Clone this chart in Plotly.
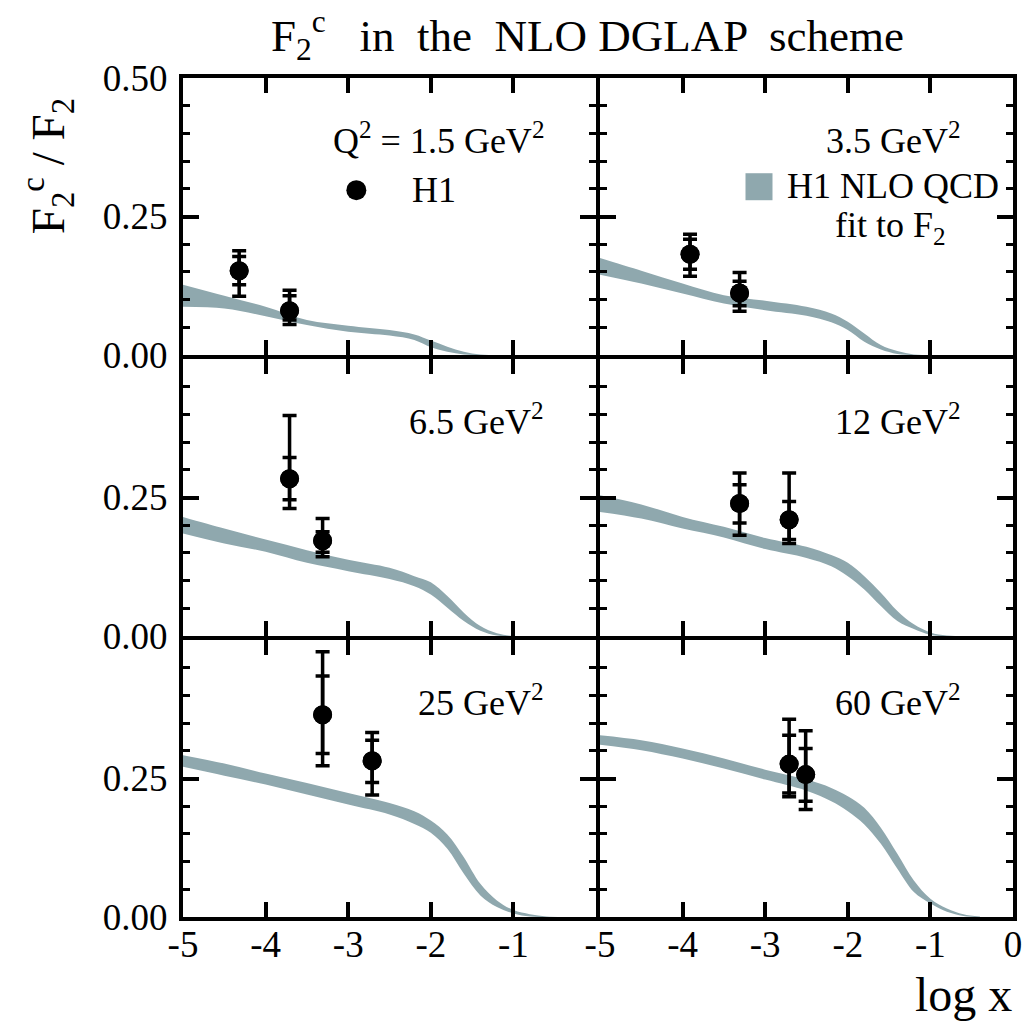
import plotly.graph_objects as go

FONT = "Liberation Serif"
BAND_COLOR = "#8fa8ae"

# ---------------- data ----------------
panel_labels = ["Q<sup>2</sup> = 1.5 GeV<sup>2</sup>", "3.5 GeV<sup>2</sup>", "6.5 GeV<sup>2</sup>",
                "12 GeV<sup>2</sup>", "25 GeV<sup>2</sup>", "60 GeV<sup>2</sup>"]

band_x = [-5.0, -4.5, -4.0, -3.5, -3.0, -2.5, -2.2, -2.0, -1.8, -1.6, -1.4, -1.2, -1.0, -0.8, -0.6, -0.4]

band_upper = [
    [0.127, 0.107, 0.087, 0.063, 0.053, 0.045, 0.037, 0.026, 0.015, 0.006, 0.001, 0, 0, 0, 0, 0],
    [0.175, 0.152, 0.129, 0.108, 0.098, 0.087, 0.075, 0.060, 0.039, 0.018, 0.007, 0.001, 0, 0, 0, 0],
    [0.215, 0.194, 0.174, 0.155, 0.1375, 0.123, 0.108, 0.097, 0.072, 0.042, 0.018, 0.005, 0, 0, 0, 0],
    [0.254, 0.2375, 0.215, 0.197, 0.177, 0.161, 0.146, 0.132, 0.108, 0.078, 0.045, 0.021, 0.0065, 0.001, 0, 0],
    [0.292, 0.277, 0.259, 0.242, 0.224, 0.206, 0.191, 0.174, 0.149, 0.108, 0.060, 0.030, 0.0125, 0.005, 0.001, 0],
    [0.328, 0.319, 0.304, 0.286, 0.266, 0.248, 0.233, 0.218, 0.197, 0.161, 0.114, 0.066, 0.033, 0.0155, 0.005, 0.001],
]
band_lower = [
    [0.087, 0.084, 0.070, 0.054, 0.042, 0.035, 0.027, 0.014, 0.006, 0.001, 0, 0, 0, 0, 0, 0],
    [0.145, 0.129, 0.111, 0.093, 0.081, 0.071, 0.059, 0.045, 0.024, 0.010, 0.002, 0, 0, 0, 0, 0],
    [0.185, 0.167, 0.152, 0.132, 0.117, 0.103, 0.090, 0.075, 0.051, 0.027, 0.0095, 0.001, 0, 0, 0, 0],
    [0.224, 0.212, 0.194, 0.178, 0.157, 0.141, 0.126, 0.108, 0.084, 0.054, 0.027, 0.0125, 0.002, 0, 0, 0],
    [0.271, 0.255, 0.239, 0.221, 0.203, 0.185, 0.168, 0.152, 0.123, 0.078, 0.039, 0.018, 0.0065, 0.001, 0, 0],
    [0.311, 0.301, 0.286, 0.268, 0.248, 0.228, 0.209, 0.191, 0.167, 0.132, 0.087, 0.045, 0.0245, 0.0095, 0.002, 0],
]

h1_x = [[-4.32, -3.71], [-3.91, -3.31], [-3.71, -3.31], [-3.31, -2.71], [-3.31, -2.71], [-2.71, -2.51]]
h1_y = [[0.152, 0.080], [0.182, 0.112], [0.284, 0.172], [0.239, 0.210], [0.365, 0.282], [0.276, 0.257]]
h1_tot_hi = [[0.188, 0.117], [0.218, 0.149], [0.398, 0.212], [0.294, 0.294], [0.479, 0.333], [0.357, 0.336]]
h1_stat_hi = [[0.178, 0.107], [0.209, 0.133], [0.322, 0.188], [0.273, 0.243], [0.435, 0.319], [0.328, 0.304]]
h1_stat_lo = [[0.127, 0.063], [0.155, 0.089], [0.246, 0.151], [0.204, 0.174], [0.295, 0.243], [0.224, 0.209]]
h1_tot_lo = [[0.106, 0.055], [0.142, 0.079], [0.230, 0.143], [0.182, 0.167], [0.273, 0.220], [0.217, 0.194]]

x_ticks = [-5, -4, -3, -2, -1, 0]
y_ticks = [0.0, 0.25, 0.5]

# ---------------- figure ----------------
W, H = 1034, 1022
ML, MR, MT, MB = 183, 14, 78, 105
LW = 4  # frame line width
gx = LW / (W - ML - MR)
gy = LW / (H - MT - MB)
cw = (1 - gx) / 2
rh = (1 - 2 * gy) / 3
col_domains = [[0.0, cw], [cw + gx, 1.0]]
row_domains = [[2 * rh + 2 * gy, 1.0], [rh + gy, 2 * rh + gy], [0.0, rh]]

fig = go.Figure()
layout = {}
for i in range(6):
    r, c = divmod(i, 2)
    n = "" if i == 0 else str(i + 1)
    xa, ya = "x" + n, "y" + n

    # band
    fig.add_trace(go.Scatter(x=band_x, y=band_lower[i], mode="lines",
                             line=dict(width=0, shape="spline", smoothing=1.0, color=BAND_COLOR),
                             xaxis=xa, yaxis=ya, showlegend=False, hoverinfo="skip"))
    fig.add_trace(go.Scatter(x=band_x, y=band_upper[i], mode="lines", fill="tonexty",
                             fillcolor=BAND_COLOR,
                             line=dict(width=0, shape="spline", smoothing=1.0, color=BAND_COLOR),
                             xaxis=xa, yaxis=ya, showlegend=False, hoverinfo="skip"))
    y = h1_y[i]
    # total errors
    fig.add_trace(go.Scatter(
        x=h1_x[i], y=y, mode="markers",
        marker=dict(size=19, color="black"),
        error_y=dict(type="data", symmetric=False,
                     array=[a - b for a, b in zip(h1_tot_hi[i], y)],
                     arrayminus=[b - a for a, b in zip(h1_tot_lo[i], y)],
                     thickness=3.5, width=7, color="black"),
        xaxis=xa, yaxis=ya, showlegend=False))
    # stat errors
    fig.add_trace(go.Scatter(
        x=h1_x[i], y=y, mode="markers",
        marker=dict(size=19, color="black"),
        error_y=dict(type="data", symmetric=False,
                     array=[a - b for a, b in zip(h1_stat_hi[i], y)],
                     arrayminus=[b - a for a, b in zip(h1_stat_lo[i], y)],
                     thickness=3.5, width=7, color="black"),
        xaxis=xa, yaxis=ya, showlegend=False))

    bottom = (r == 2)
    left = (c == 0)
    if c == 0:
        xt = ["-5", "-4", "-3", "-2", "-1", ""]
    else:
        xt = ["-5", "-4", "-3", "-2", "-1", "0"]
    yt = ["0.00", "0.25", "0.50" if r == 0 else ""]

    axis_common = dict(showline=True, linewidth=LW, linecolor="black", mirror="ticks",
                       ticks="inside", tickcolor="black", showgrid=False, zeroline=False,
                       tickfont=dict(family=FONT, size=37, color="black"))
    layout["xaxis" + n] = dict(axis_common, domain=col_domains[c], anchor=ya, range=[-5, 0],
                               tickvals=x_ticks, ticktext=xt, showticklabels=bottom,
                               ticklen=15, tickwidth=3.5, ticklabelstandoff=-8)
    layout["yaxis" + n] = dict(axis_common, domain=row_domains[r], anchor=xa, range=[0, 0.5],
                               tickvals=y_ticks, ticktext=yt, showticklabels=left,
                               ticklen=16, tickwidth=3.5, ticklabelstandoff=4,
                               minor=dict(dtick=0.05, tick0=0, ticklen=7, tickwidth=3,
                                          tickcolor="black", ticks="inside"))

fig.update_layout(**layout)

LBL = 36
annotations = []
for i in range(6):
    n = "" if i == 0 else str(i + 1)
    annotations.append(dict(text=panel_labels[i], xref="x" + n + " domain", yref="y" + n + " domain",
                            x=0.88, y=0.78, xanchor="right", yanchor="middle", showarrow=False,
                            font=dict(family=FONT, size=LBL, color="black")))

annotations += [
    # legend texts
    dict(text="H1", xref="x domain", yref="y domain", x=0.55, y=0.595, xanchor="left",
         yanchor="middle", showarrow=False, font=dict(family=FONT, size=LBL, color="black")),
    dict(text="H1 NLO QCD", xref="x2 domain", yref="y2 domain", x=0.448, y=0.61, xanchor="left",
         yanchor="middle", showarrow=False, font=dict(family=FONT, size=LBL, color="black")),
    dict(text="fit to F<sub>2</sub>", xref="x2 domain", yref="y2 domain", x=0.5636, y=0.46,
         xanchor="left", yanchor="middle", showarrow=False,
         font=dict(family=FONT, size=LBL, color="black")),
    # title
    dict(text="F<sub>2</sub><sup>c</sup>   in  the  NLO DGLAP  scheme", xref="paper", yref="paper",
         x=0.4875, y=1.051, xanchor="center", yanchor="middle", showarrow=False,
         font=dict(family=FONT, size=45, color="black")),
    # y title
    dict(text="F<sub>2</sub><sup>c</sup> / F<sub>2</sub>", xref="paper", yref="paper",
         x=-0.1625, y=0.895, xanchor="center", yanchor="middle", textangle=-90, showarrow=False,
         font=dict(family=FONT, size=47, color="black")),
    # x title
    dict(text="log x", xref="paper", yref="paper", x=0.940, y=-0.092, xanchor="center",
         yanchor="middle", showarrow=False, font=dict(family=FONT, size=48, color="black")),
]

shapes = [
    dict(type="circle", xref="x domain", yref="y domain", xsizemode="pixel", ysizemode="pixel",
         xanchor=0.4197, yanchor=0.595, x0=-10, x1=10, y0=-10, y1=10,
         fillcolor="black", line=dict(width=0)),
    dict(type="rect", xref="x2 domain", yref="y2 domain", xsizemode="pixel", ysizemode="pixel",
         xanchor=0.385, yanchor=0.6075, x0=-13.5, x1=13.5, y0=-13.5, y1=13.5,
         fillcolor=BAND_COLOR, line=dict(width=0)),
]

fig.update_layout(
    width=W, height=H,
    margin=dict(l=ML, r=MR, t=MT, b=MB),
    paper_bgcolor="white", plot_bgcolor="white",
    showlegend=False,
    annotations=annotations, shapes=shapes,
)

fig.write_html("out.html", config={"displayModeBar": False},
               post_script="document.body.style.margin='0';")
